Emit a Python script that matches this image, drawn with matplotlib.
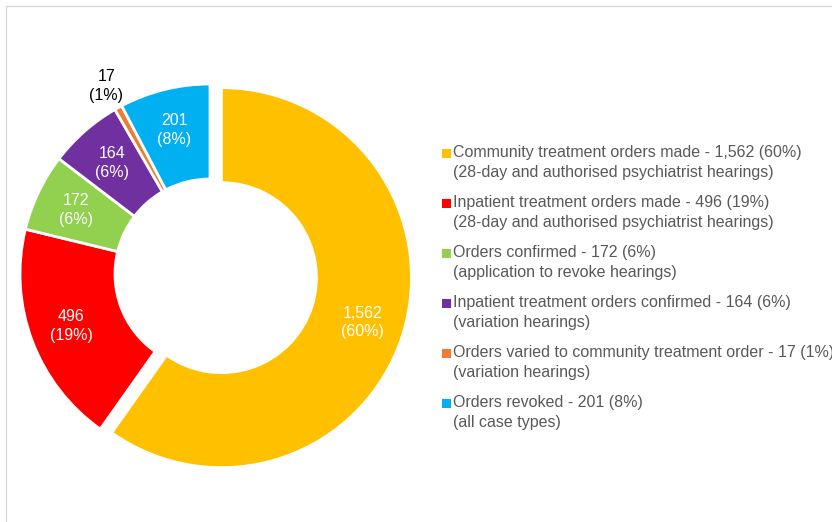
import numpy as np
import matplotlib.pyplot as plt
from matplotlib.patches import Rectangle

plt.rcParams["font.family"] = ["Liberation Sans", "DejaVu Sans"]

categories = [
    "Community treatment orders made",
    "Inpatient treatment orders made",
    "Orders confirmed",
    "Inpatient treatment orders confirmed",
    "Orders varied to community treatment order",
    "Orders revoked",
]
subtitles = [
    "(28-day and authorised psychiatrist hearings)",
    "(28-day and authorised psychiatrist hearings)",
    "(application to revoke hearings)",
    "(variation hearings)",
    "(variation hearings)",
    "(all case types)",
]
values = [1562, 496, 172, 164, 17, 201]
percents = [60, 19, 6, 6, 1, 8]
colours = ["#FFC000", "#FF0000", "#92D050", "#7030A0", "#ED7D31", "#00B0F0"]


def main() -> None:
    W, H = 832, 522
    fig = plt.figure(figsize=(W / 100, H / 100), dpi=100)
    ax = fig.add_axes([0, 0, 1, 1])

    # light frame, only top and left edges visible
    fig.patches.append(Rectangle((6 / W, -0.1), 1.2, (H - 6) / H + 0.1,
                                 transform=fig.transFigure, fill=False,
                                 edgecolor="#D9D9D9", linewidth=1))

    cx, cy, R = 210, H - 274, 190
    # pie explode is in data units here (pixels)
    explode = [12, 0, 0, 0, 0, 0]
    wedges, _ = ax.pie(
        values,
        colors=colours,
        startangle=90,
        counterclock=False,
        radius=R,
        center=(cx, cy),
        explode=explode,
        wedgeprops=dict(width=R * 0.5, edgecolor="white", linewidth=2),
        frame=True,
    )
    ax.set_xlim(0, W)
    ax.set_ylim(0, H)
    ax.axis("off")

    # data labels
    for i, w in enumerate(wedges):
        mid = np.deg2rad((w.theta1 + w.theta2) / 2)
        wx, wy = w.center
        inside = percents[i] > 1
        r = R * (0.78 if inside else 1.13)
        ax.text(wx + r * np.cos(mid), wy + r * np.sin(mid),
                f"{values[i]:,}\n({percents[i]}%)",
                ha="center", va="center", fontsize=11.5, linespacing=1.3,
                color="white" if inside else "black")

    # legend
    x0, y0, step = 453, 153, 50
    for i in range(len(values)):
        y = H - (y0 + i * step)
        ax.add_patch(Rectangle((442, y - 4.5), 9, 9, facecolor=colours[i],
                               edgecolor="none"))
        ax.text(x0, y, f"{categories[i]} - {values[i]:,} ({percents[i]}%)",
                ha="left", va="center", fontsize=11.5, color="#595959")
        ax.text(x0, y - 19, subtitles[i],
                ha="left", va="center", fontsize=11.5, color="#595959")

    fig.savefig("out.png", dpi=100)


if __name__ == "__main__":
    main()
